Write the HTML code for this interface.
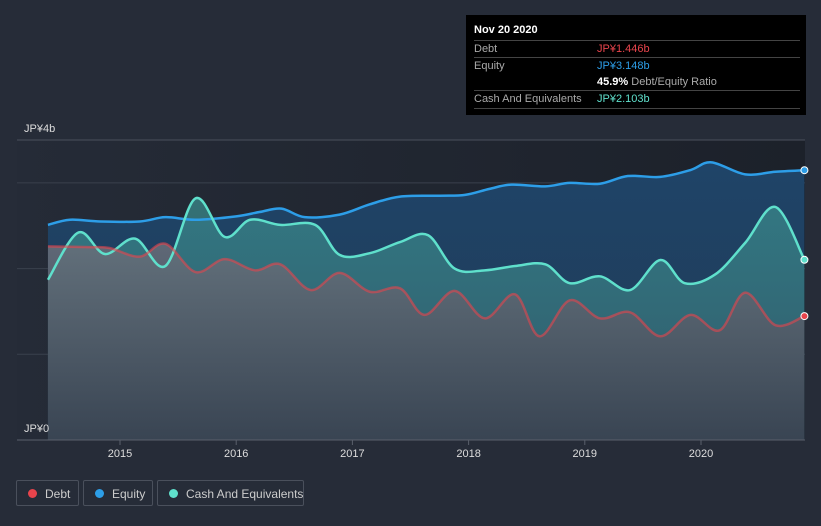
<!DOCTYPE html>
<html><head><meta charset="utf-8"><style>
body{margin:0;background:#262c38;font-family:"Liberation Sans",sans-serif;}
#wrap{position:relative;width:821px;height:526px;overflow:hidden;background:#262c38}
.tt{position:absolute;left:466px;top:15px;width:340px;height:100px;background:#000;color:#fff;font-size:11px}
.tt .row{position:absolute;left:8px;right:6px;border-top:1px solid #444;height:17px;line-height:17px}
.lg{position:absolute;top:480px;height:26px;border:1px solid #4a505c;border-radius:2px;color:#ccc;font-size:12px;line-height:26px;box-sizing:border-box;white-space:nowrap}
.lg i{position:absolute;left:11px;top:8px;width:9px;height:9px;border-radius:50%}
</style></head><body>
<div id="wrap">
<svg id="chart" width="821" height="526" style="position:absolute;left:0;top:0"></svg>
<div class="tt">
 <div style="position:absolute;left:8px;top:9px;font-weight:bold;font-size:11px">Nov 20 2020</div>
 <div class="row" style="top:25px"><span style="color:#aaa">Debt</span><span style="position:absolute;left:123px;color:#e8444c">JP¥1.446b</span></div>
 <div class="row" style="top:42px"><span style="color:#aaa">Equity</span><span style="position:absolute;left:123px;color:#2d9ee8">JP¥3.148b</span></div>
 <div style="position:absolute;left:131px;top:59px;line-height:17px"><b>45.9%</b> <span style="color:#aaa">Debt/Equity Ratio</span></div>
 <div class="row" style="top:75px;border-bottom:1px solid #444"><span style="color:#aaa">Cash And Equivalents</span><span style="position:absolute;left:123px;color:#5fe0cc">JP¥2.103b</span></div>
</div>
<div class="lg" style="left:16px;width:63px"><i style="background:#e8444c"></i><span style="position:absolute;left:28px">Debt</span></div>
<div class="lg" style="left:83px;width:70px"><i style="background:#2d9ee8"></i><span style="position:absolute;left:28px">Equity</span></div>
<div class="lg" style="left:157px;width:147px"><i style="background:#5fe0cc"></i><span style="position:absolute;left:28px">Cash And Equivalents</span></div>
</div>
<script>
const eqDates=[14.38,14.57,14.83,15.17,15.39,15.65,16.00,16.20,16.39,16.59,16.89,17.15,17.41,17.75,17.97,18.18,18.37,18.66,18.87,19.13,19.37,19.65,19.91,20.09,20.38,20.64,20.89];
const eqVals=[2.51,2.57,2.55,2.55,2.60,2.57,2.61,2.66,2.70,2.60,2.63,2.75,2.84,2.85,2.86,2.93,2.98,2.96,3.00,2.99,3.08,3.07,3.15,3.24,3.10,3.13,3.148];
const debtDates=[14.38,14.74,14.91,15.17,15.39,15.65,15.90,16.16,16.38,16.64,16.89,17.15,17.41,17.62,17.88,18.14,18.40,18.61,18.87,19.13,19.39,19.65,19.91,20.16,20.38,20.64,20.89];
const debtVals=[2.26,2.25,2.24,2.14,2.29,1.96,2.11,1.98,2.05,1.75,1.95,1.73,1.77,1.46,1.74,1.42,1.70,1.21,1.63,1.42,1.49,1.21,1.46,1.28,1.72,1.34,1.446];
const cashDates=[14.38,14.64,14.87,15.13,15.39,15.65,15.90,16.12,16.38,16.68,16.89,17.15,17.41,17.65,17.88,18.14,18.40,18.66,18.87,19.13,19.39,19.65,19.86,20.12,20.38,20.64,20.89];
const cashVals=[1.87,2.42,2.17,2.35,2.03,2.82,2.37,2.57,2.51,2.51,2.16,2.18,2.31,2.39,2.00,1.98,2.03,2.05,1.83,1.91,1.75,2.10,1.83,1.93,2.30,2.72,2.103];
const xTicks=[2015,2016,2017,2018,2019,2020];
const yTicks=[0,1,2,3];
const NS='http://www.w3.org/2000/svg';
const svg=document.getElementById('chart');
const X=d=>120+(2000+d-2015)*116.2;
const Xy=y=>120+(y-2015)*116.2;
const Y=v=>440-v*85.7;
function mk(t,a,p){const e=document.createElementNS(NS,t);for(const k in a)e.setAttribute(k,a[k]);(p||svg).appendChild(e);return e;}
const defs=mk('defs',{});
defs.innerHTML='<linearGradient id="bg" x1="0" y1="0" x2="1" y2="0"><stop offset="0" stop-color="#252b37"/><stop offset="1" stop-color="#1c212a"/></linearGradient>'+
'<linearGradient id="gE" x1="0" y1="0" x2="0" y2="1"><stop offset="0" stop-color="#1f4468"/><stop offset="1" stop-color="#203a55"/></linearGradient>'+
'<linearGradient id="gC" x1="0" y1="0" x2="0" y2="1"><stop offset="0" stop-color="#3a8a8c" stop-opacity="0.75"/><stop offset="1" stop-color="#3a7078" stop-opacity="0.6"/></linearGradient>'+
'<linearGradient id="gD" x1="0" y1="0" x2="0" y2="1"><stop offset="0" stop-color="#6a6f7a" stop-opacity="0.85"/><stop offset="1" stop-color="#3a4250" stop-opacity="0.9"/></linearGradient>';
const bgr=mk('rect',{x:17,y:140,width:788,height:300,fill:'url(#bg)'});


const gl=mk('line',{x1:17,x2:805,y1:140,y2:140,stroke:'#4a505c'});


yTicks.forEach(v=>{if(v===0)return;const l=mk('line',{x1:17,x2:805,y1:Y(v),y2:Y(v),stroke:'#3a414d'});

});
function path(ds,vs){const p=ds.map((d,i)=>[X(d),Y(vs[i])]);let s='M'+p[0][0]+','+p[0][1];
for(let i=0;i<p.length-1;i++){const p0=p[i-1]||p[i],p1=p[i],p2=p[i+1],p3=p[i+2]||p2;
s+=' C'+(p1[0]+(p2[0]-p0[0])/6)+','+(p1[1]+(p2[1]-p0[1])/6)+' '+(p2[0]-(p3[0]-p1[0])/6)+','+(p2[1]-(p3[1]-p1[1])/6)+' '+p2[0]+','+p2[1];}
return {s,first:p[0],last:p[p.length-1]};}
const series=[[eqDates,eqVals,'url(#gE)','#2d9ee8','equity'],[cashDates,cashVals,'url(#gC)','#5fe0cc','cash'],[debtDates,debtVals,'url(#gD)','#e8444c','debt']];
const lines=[];
series.forEach(([d,v,f,c,n])=>{const r=path(d,v);
const a=mk('path',{d:r.s+' L'+r.last[0]+',440 L'+r.first[0]+',440 Z',fill:f});


lines.push([r,c,n]);});
lines.forEach(([r,c,n])=>{const l=mk('path',{d:r.s,fill:'none',stroke:c,'stroke-width':2.5,'stroke-opacity':n==='debt'?0.6:1});


const dot=mk('circle',{cx:r.last[0],cy:r.last[1],r:3.5,fill:c,stroke:'#fff','stroke-width':1});

});
const ax=mk('line',{x1:17,x2:805,y1:440,y2:440,stroke:'#5a606c'});


xTicks.forEach(y=>{const t=mk('line',{x1:Xy(y),x2:Xy(y),y1:440,y2:445,stroke:'#5a606c'});


const tx=mk('text',{x:Xy(y),y:457,'text-anchor':'middle',fill:'#ddd','font-size':11});tx.textContent=y;

});
const t1=mk('text',{x:24,y:132,fill:'#ddd','font-size':11});t1.textContent='JP¥4b';


const t2=mk('text',{x:24,y:432,fill:'#ddd','font-size':11});t2.textContent='JP¥0';


</script>
</body></html>
